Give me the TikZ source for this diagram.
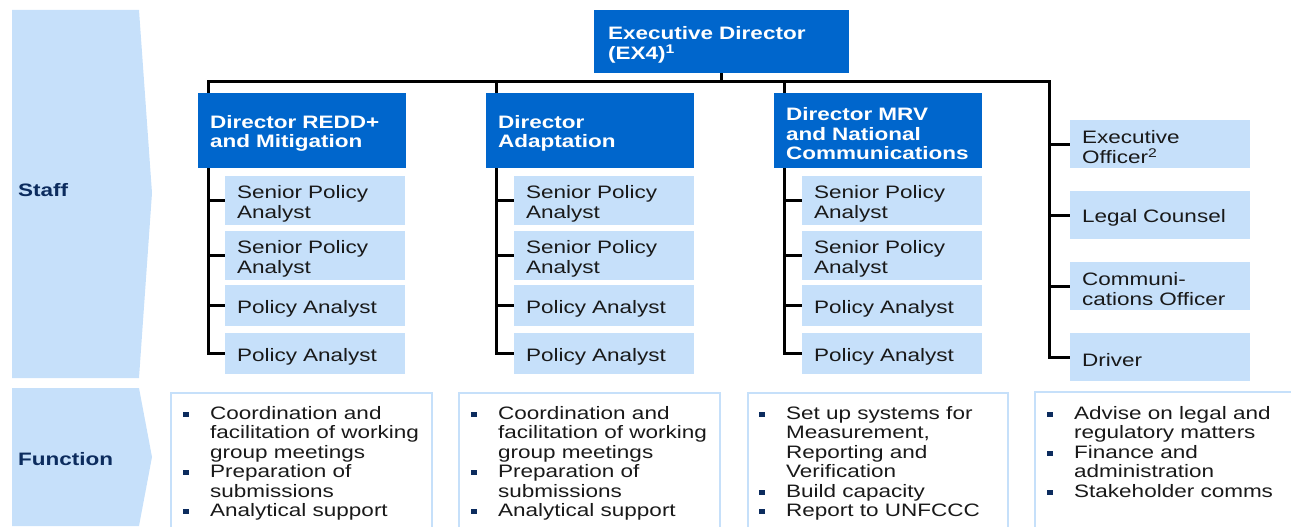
\documentclass[tikz,border=0pt]{standalone}
\usepackage{fontspec}
\setmainfont{Liberation Sans}[FakeStretch=1.25]
\usepackage{xcolor}
\usepackage{tikz}
\usetikzlibrary{positioning,calc}

\definecolor{dirblue}{HTML}{0066CC}
\definecolor{paleblue}{HTML}{C6E0FA}
\definecolor{navy}{HTML}{0C2C5E}
\newcommand{\sqb}{\makebox[27pt][l]{\textcolor{navy}{\rule[2.5pt]{6pt}{5pt}}}}
\newcommand{\ind}{\hspace*{27pt}}

\begin{document}
\begin{tikzpicture}[
    x=1pt, y=-1pt,
    every node/.style={font=\fontsize{18}{19.5}\selectfont},
    boxtext/.style={execute at begin node={\rule{0pt}{19pt}}},
    topbox/.style={rectangle, boxtext, fill=dirblue, text=white, anchor=north west, font=\fontsize{18}{20}\selectfont\bfseries, minimum width=255pt, minimum height=63pt, text width=227pt, inner xsep=14pt, align=left},
    director/.style={rectangle, boxtext, fill=dirblue, text=white, anchor=north west, font=\fontsize{18}{19.2}\selectfont\bfseries, minimum width=208pt, minimum height=75pt, text width=184pt, inner xsep=12pt, align=left},
    staffbox/.style={rectangle, boxtext, fill=paleblue, text=black!90, anchor=north west, minimum width=180pt, text width=156pt, inner xsep=12pt, align=left},
    rowlabel/.style={anchor=west, inner sep=0pt, text=navy, font=\fontsize{18}{19.5}\selectfont\bfseries},
    chevron/.style={fill=paleblue},
    funcbox/.style={draw=paleblue, line width=1.5pt},
    functext/.style={anchor=north west, inner sep=0pt, align=left, text=black!90},
    link/.style={line width=3pt, black},
]
\useasboundingbox (0,0) rectangle (1291,527);

% Row chevrons
\fill[chevron] (12,10) -- (139,10) -- (152,193) -- (139,378) -- (12,378) -- cycle;
\node[rowlabel] (staffLbl) at (18,190) {Staff};
\fill[chevron] (12,388) -- (139,388) -- (152,457) -- (139,526) -- (12,526) -- cycle;
\node[rowlabel] (funcLbl) at (18,459) {Function};

% Executive director and directors
\node[topbox] (ed) at (594,10) {Executive Director\\(EX4)\textsuperscript{1}};
\node[director] (dRedd) at (198,93) {Director REDD+\\and Mitigation};
\node[director] (dAdapt) at (486,93) {Director\\Adaptation};
\node[director] (dMrv) at (774,93) {Director MRV\\and National\\Communications};

% REDD+ staff
\node[staffbox, minimum height=48pt] (r1) at (225,176) {Senior Policy\\Analyst};
\node[staffbox, minimum height=48pt] (r2) at (225,231) {Senior Policy\\Analyst};
\node[staffbox, minimum height=41pt] (r3) at (225,285) {Policy Analyst};
\node[staffbox, minimum height=41pt] (r4) at (225,333) {Policy Analyst};

% Adaptation staff
\node[staffbox, minimum height=48pt] (a1) at (514,176) {Senior Policy\\Analyst};
\node[staffbox, minimum height=48pt] (a2) at (514,231) {Senior Policy\\Analyst};
\node[staffbox, minimum height=41pt] (a3) at (514,285) {Policy Analyst};
\node[staffbox, minimum height=41pt] (a4) at (514,333) {Policy Analyst};

% MRV staff
\node[staffbox, minimum height=48pt] (m1) at (802,176) {Senior Policy\\Analyst};
\node[staffbox, minimum height=48pt] (m2) at (802,231) {Senior Policy\\Analyst};
\node[staffbox, minimum height=41pt] (m3) at (802,285) {Policy Analyst};
\node[staffbox, minimum height=41pt] (m4) at (802,333) {Policy Analyst};

% Office of the executive director
\node[staffbox, minimum height=48pt] (e1) at (1070,120) {Executive\\Officer\textsuperscript{2}};
\node[staffbox, minimum height=48pt] (e2) at (1070,191) {Legal Counsel};
\node[staffbox, minimum height=48pt] (e3) at (1070,262) {Communi-\\cations Officer};
\node[staffbox, minimum height=48pt] (e4) at (1070,333) {Driver};

% Connectors
\coordinate (bus) at (0,82);
\coordinate (eTrunk) at (1049,82);
\draw[link] (ed.south) -- (ed.south |- bus);
\draw[link] ([xshift=10pt]dRedd.north west) |- (eTrunk) |- (e4.west);
\draw[link] ([xshift=10pt]dAdapt.north west |- bus) -- ([xshift=10pt]dAdapt.north west);
\draw[link] ([xshift=10pt]dMrv.north west |- bus) -- ([xshift=10pt]dMrv.north west);
\draw[link] ([xshift=10pt]dRedd.south west) |- (r4.west);
\draw[link] ([xshift=10pt]dAdapt.south west) |- (a4.west);
\draw[link] ([xshift=10pt]dMrv.south west) |- (m4.west);
\foreach \s in {r1,r2,r3} \draw[link] ([xshift=10pt]dRedd.south west |- \s.west) -- (\s.west);
\foreach \s in {a1,a2,a3} \draw[link] ([xshift=10pt]dAdapt.south west |- \s.west) -- (\s.west);
\foreach \s in {m1,m2,m3} \draw[link] ([xshift=10pt]dMrv.south west |- \s.west) -- (\s.west);
\foreach \s in {e1,e2,e3} \draw[link] (eTrunk |- \s.west) -- (\s.west);

% Function boxes
\draw[funcbox] (171,530) -- (171,393) -- (432,393) -- (432,530);
\draw[funcbox] (459,530) -- (459,393) -- (720,393) -- (720,530);
\draw[funcbox] (748,530) -- (748,393) -- (1008,393) -- (1008,530);
\draw[funcbox] (1035,530) -- (1035,392) -- (1295,392);

\node[functext] (fRedd) at (183,406) {\sqb Coordination and\\\ind facilitation of working\\\ind group meetings\\\sqb Preparation of\\\ind submissions\\\sqb Analytical support};
\node[functext] (fAdapt) at (471,406) {\sqb Coordination and\\\ind facilitation of working\\\ind group meetings\\\sqb Preparation of\\\ind submissions\\\sqb Analytical support};
\node[functext] (fMrv) at (759,406) {\sqb Set up systems for\\\ind Measurement,\\\ind Reporting and\\\ind Verification\\\sqb Build capacity\\\sqb Report to UNFCCC};
\node[functext] (fExec) at (1047,406) {\sqb Advise on legal and\\\ind regulatory matters\\\sqb Finance and\\\ind administration\\\sqb Stakeholder comms};

\end{tikzpicture}
\end{document}
